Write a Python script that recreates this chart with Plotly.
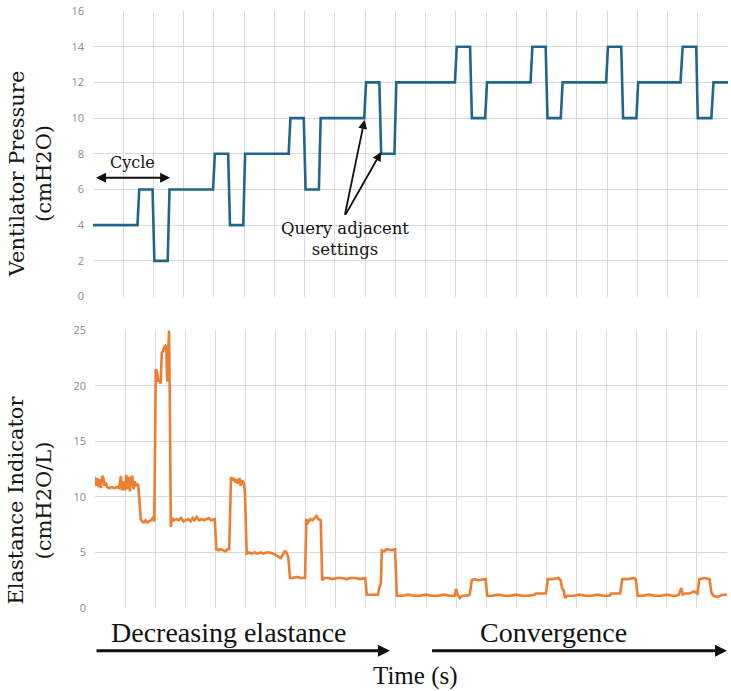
import plotly.graph_objects as go

# Ventilator pressure setting (step changes), time in grid units
p_t = [0, 1.47, 1.53, 1.97, 2.03, 2.47, 2.53, 3.97, 4.03, 4.47, 4.53, 4.97, 5.03, 6.47, 6.53, 6.97, 7.03, 7.47, 7.53,
       8.97, 9.03, 9.47, 9.53, 9.97, 10.03, 11.97, 12.03, 12.47, 12.53, 12.97, 13.03, 14.47, 14.53, 14.97, 15.03,
       15.47, 15.53, 16.97, 17.03, 17.47, 17.53, 17.97, 18.03, 19.43, 19.5, 19.95, 20.0, 20.45, 20.52, 21]
p_v = [4, 4, 6, 6, 2, 2, 6, 6, 8, 8, 4, 4, 8, 8, 10, 10, 6, 6, 10, 10,
       12, 12, 8, 8, 12, 12, 14, 14, 10, 10, 12, 12, 14, 14, 10, 10, 12, 12, 14, 14,
       10, 10, 12, 12, 14, 14, 10, 10, 12, 12]

# Elastance indicator
e_t = [0.00, 0.04, 0.08, 0.12, 0.16, 0.20, 0.24, 0.28, 0.32, 0.36, 0.40, 0.48, 0.56, 0.64, 0.72, 0.80, 0.86, 0.90,
       0.95, 1.00, 1.04, 1.08, 1.12, 1.16, 1.20, 1.24, 1.28, 1.32, 1.36, 1.40, 1.44, 1.48, 1.52, 1.56, 1.62, 1.68,
       1.74, 1.80, 1.86, 1.92, 1.97, 2.02, 2.06, 2.10, 2.14, 2.18, 2.22, 2.26, 2.30, 2.34, 2.37, 2.40, 2.43, 2.46,
       2.48, 2.52, 2.56, 2.62, 2.70, 2.78, 2.86, 2.94, 3.02, 3.10, 3.18, 3.24, 3.30, 3.38, 3.46, 3.54, 3.62, 3.70,
       3.78, 3.86, 3.94, 3.98, 4.03, 4.10, 4.18, 4.26, 4.34, 4.40, 4.46, 4.52, 4.57, 4.62, 4.66, 4.70, 4.75, 4.80,
       4.84, 4.88, 4.94, 4.98, 5.04, 5.12, 5.20, 5.30, 5.40, 5.50, 5.60, 5.70, 5.80, 5.90, 6.00, 6.10, 6.18, 6.24,
       6.30, 6.36, 6.42, 6.48, 6.56, 6.70, 6.85, 6.98, 7.02, 7.08, 7.15, 7.22, 7.30, 7.36, 7.42, 7.50, 7.55, 7.62,
       7.75, 7.90, 8.05, 8.20, 8.35, 8.50, 8.65, 8.80, 8.98, 9.03, 9.20, 9.40, 9.45, 9.50, 9.53, 9.60, 9.70, 9.85,
       9.97, 10.03, 10.2, 10.4, 10.6, 10.8, 11.0, 11.2, 11.4, 11.6, 11.8, 11.95, 12.0, 12.05, 12.12, 12.2, 12.35,
       12.45, 12.52, 12.6, 12.75, 12.9, 12.98, 13.03, 13.2, 13.4, 13.6, 13.8, 14.0, 14.2, 14.4, 14.6, 14.65, 14.8,
       14.98, 15.05, 15.2, 15.4, 15.47, 15.52, 15.57, 15.62, 15.7, 15.9, 16.1, 16.3, 16.5, 16.7, 16.9, 17.1, 17.15,
       17.3, 17.45, 17.52, 17.7, 17.9, 17.97, 18.03, 18.2, 18.4, 18.6, 18.8, 19.0, 19.2, 19.3, 19.4, 19.48, 19.53,
       19.6, 19.75, 19.9, 20.02, 20.08, 20.25, 20.42, 20.48, 20.55, 20.7, 20.85, 21.0]
e_v = [11.8, 11.0, 11.7, 10.9, 11.6, 10.8, 11.9, 11.7, 11.0, 11.3, 10.9, 10.8, 10.9, 10.8, 10.9, 10.8, 11.9, 10.6,
       11.4, 10.6, 12.0, 10.7, 11.8, 10.5, 11.7, 11.9, 10.7, 11.4, 11.0, 11.2, 11.0, 9.8, 8.0, 7.8, 7.7, 7.9,
       7.7, 7.8, 7.9, 8.1, 7.8, 21.5, 21.3, 20.4, 20.6, 20.2, 23.0, 23.1, 23.5, 23.6, 23.4, 20.4, 23.8, 25.0,
       20.2, 7.3, 8.1, 7.9, 8.0, 7.9, 8.1, 7.8, 7.9, 8.0, 7.8, 8.1, 7.9, 8.2, 7.9, 8.0, 7.9, 8.0,
       8.1, 7.9, 8.0, 8.0, 5.3, 5.2, 5.3, 5.2, 5.1, 5.3, 5.3, 11.8, 11.5, 11.7, 11.3, 11.6, 11.2, 11.7,
       11.0, 11.5, 11.3, 10.6, 4.9, 5.0, 4.9, 5.0, 4.9, 5.0, 4.9, 5.0, 5.0, 4.9, 4.8, 4.6, 4.5, 4.8,
       5.1, 5.0, 4.6, 2.7, 2.7, 2.8, 2.7, 2.7, 8.0, 7.7, 8.0, 7.9, 8.1, 8.3, 8.0, 7.9, 2.5, 2.7,
       2.7, 2.6, 2.7, 2.7, 2.6, 2.7, 2.7, 2.6, 2.7, 1.2, 1.2, 1.2, 1.9, 2.2, 5.2, 5.1, 5.3, 5.2,
       5.3, 1.1, 1.1, 1.2, 1.1, 1.1, 1.2, 1.1, 1.1, 1.2, 1.1, 1.1, 1.7, 1.2, 0.9, 1.1, 1.1,
       1.2, 2.5, 2.6, 2.5, 2.6, 2.6, 1.1, 1.1, 1.2, 1.1, 1.1, 1.2, 1.1, 1.1, 1.2, 1.3, 1.3,
       1.3, 2.6, 2.6, 2.7, 2.5, 1.8, 1.6, 0.9, 1.1, 1.1, 1.2, 1.1, 1.1, 1.2, 1.1, 1.1, 1.3,
       1.3, 1.3, 2.6, 2.6, 2.7, 2.6, 1.1, 1.1, 1.2, 1.1, 1.1, 1.2, 1.1, 1.1, 1.2, 1.8, 1.2,
       1.3, 1.3, 1.5, 1.3, 2.6, 2.7, 2.6, 1.4, 1.1, 1.0, 1.2, 1.2]

p_ticks = [0, 2, 4, 6, 8, 10, 12, 14, 16]
e_ticks = [0, 5, 10, 15, 20, 25]

BLUE = "#1f6688"
ORANGE = "#ed7d31"
GRID = "#d9d9d9"
SERIF = "DejaVu Serif"
TIMES = "Liberation Serif"

fig = go.Figure()
fig.add_trace(go.Scatter(x=p_t, y=p_v, mode="lines", line=dict(color=BLUE, width=2.6),
                         xaxis="x", yaxis="y", showlegend=False))
fig.add_trace(go.Scatter(x=e_t, y=e_v, mode="lines", line=dict(color=ORANGE, width=2.6),
                         xaxis="x2", yaxis="y2", showlegend=False))

xcommon = dict(range=[0, 21], dtick=1, tick0=0, showgrid=True, gridcolor=GRID, gridwidth=1,
               showticklabels=False, zeroline=False, showline=False, fixedrange=True)
ycommon = dict(showgrid=True, gridcolor=GRID, gridwidth=1, zeroline=False, showline=False,
               tickfont=dict(family="Open Sans", size=11, color="#8a8a8a"), ticklabelstandoff=8)

fig.update_layout(
    width=731, height=691,
    margin=dict(l=93, r=3, t=8, b=83),
    paper_bgcolor="white", plot_bgcolor="white",
    xaxis=dict(domain=[0, 1], anchor="y", **xcommon),
    xaxis2=dict(domain=[2 / 635, 634 / 635], anchor="y2", **xcommon),
    yaxis=dict(domain=[0.5217, 1], range=[0, 16], tickvals=p_ticks, anchor="x", **ycommon),
    yaxis2=dict(domain=[0, 0.465], range=[0, 25], tickvals=e_ticks, anchor="x2", **ycommon),
)

ann = []
# y-axis titles
ann.append(dict(text="Ventilator Pressure<br>(cmH2O)", xref="paper", yref="paper",
                x=-93 / 635 + 30 / 635, y=1 - (172 - 8) / 600, showarrow=False, textangle=-90,
                font=dict(family=SERIF, size=21, color="#161616"), xanchor="center", yanchor="middle"))
ann.append(dict(text="Elastance Indicator<br>(cmH2O/L)", xref="paper", yref="paper",
                x=-93 / 635 + 30 / 635, y=(608 - 500) / 600, showarrow=False, textangle=-90,
                font=dict(family=SERIF, size=21, color="#161616"), xanchor="center", yanchor="middle"))
# Cycle
ann.append(dict(text="Cycle", xref="x", yref="y", x=1.32, y=7.5, showarrow=False,
                font=dict(family=SERIF, size=16, color="#111111")))
ann.append(dict(text="", xref="x", yref="y", x=2.55, y=6.65, ax=0.05, ay=6.65, axref="x", ayref="y",
                showarrow=True, arrowhead=2, startarrowhead=2, arrowside="end+start", arrowwidth=2,
                arrowsize=1, arrowcolor="#111111"))
# Query adjacent settings
ann.append(dict(text="Query adjacent<br>settings", xref="x", yref="y", x=8.35, y=3.2, showarrow=False,
                font=dict(family=SERIF, size=16.5, color="#111111")))
ann.append(dict(text="", xref="x", yref="y", x=8.98, y=9.9, ax=8.32, ay=4.5, axref="x", ayref="y",
                showarrow=True, arrowhead=2, arrowwidth=1.8, arrowsize=1, arrowcolor="#111111"))
ann.append(dict(text="", xref="x", yref="y", x=9.53, y=8.1, ax=8.32, ay=4.5, axref="x", ayref="y",
                showarrow=True, arrowhead=2, arrowwidth=1.8, arrowsize=1, arrowcolor="#111111"))
# bottom phase labels
ann.append(dict(text="Decreasing elastance", xref="x2", yref="paper", x=4.45, y=(608 - 650) / 600,
                showarrow=False, font=dict(family=TIMES, size=28, color="#111111")))
ann.append(dict(text="Convergence", xref="x2", yref="paper", x=15.25, y=(608 - 650) / 600,
                showarrow=False, font=dict(family=TIMES, size=28, color="#111111")))
ann.append(dict(text="", xref="x2", yref="paper", x=9.8, y=(608 - 651) / 600, ax=0.0, ay=0,
                axref="x2", ayref="pixel", showarrow=True, arrowhead=2, arrowwidth=3, arrowsize=0.8,
                arrowcolor="#111111"))
ann.append(dict(text="", xref="x2", yref="paper", x=21.0, y=(608 - 651) / 600, ax=11.15, ay=0,
                axref="x2", ayref="pixel", showarrow=True, arrowhead=2, arrowwidth=3, arrowsize=0.8,
                arrowcolor="#111111"))
ann.append(dict(text="Time (s)", xref="x2", yref="paper", x=10.65, y=(608 - 692) / 600,
                showarrow=False, font=dict(family=TIMES, size=25, color="#111111")))
fig.update_layout(annotations=ann)

fig.write_html("out.html")
